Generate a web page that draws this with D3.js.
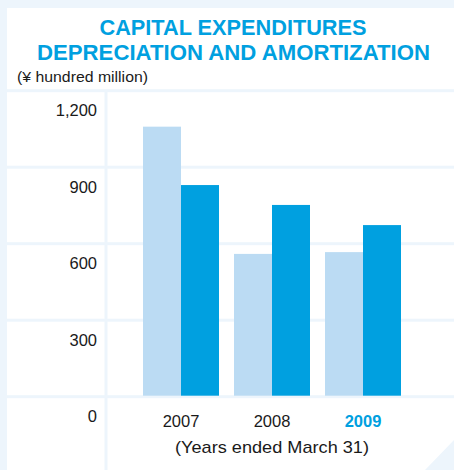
<!DOCTYPE html>
<html>
<head>
<meta charset="utf-8">
<script src="https://cdn.jsdelivr.net/npm/d3@7"></script>
<style>
  html, body { margin: 0; padding: 0; background: #edf5fc; }
  svg { display: block; }
</style>
</head>
<body>
<div id="chart"></div>
<script>
// Capex vs depreciation & amortization, grouped bars
const years = ['2007', '2008', '2009'];
const series = ['Capital expenditures', 'Depreciation and amortization'];
const capex = [1059, 560, 567];
const depreciation = [830, 752, 673];
const yTicks = [0, 300, 600, 900, 1200];

const BG = '#edf5fc', BLUE = '#00a0e0', LIGHT = '#bbdbf3', INK = '#1a1a1a';
const FONT = '"Liberation Sans", Arial, sans-serif';
const W = 454, H = 470;

const svg = d3.select('#chart').append('svg').attr('width', W).attr('height', H);

// panels
svg.append('rect').attr('width', W).attr('height', H).attr('fill', BG);
svg.append('rect').attr('x', 7).attr('y', 8).attr('width', W - 7).attr('height', H - 8).attr('fill', '#fff');
svg.append('path').attr('d', `M425,${H}L${W},440L${W},${H}Z`).attr('fill', BG);

// title
const title = svg.append('g').attr('font-family', '"Liberation Sans Narrow", "Liberation Sans", Arial, sans-serif')
  .attr('font-weight', 700).attr('font-size', 22).attr('fill', BLUE).attr('text-anchor', 'middle');
title.append('text').attr('x', 233).attr('y', 35).attr('textLength', 267).attr('lengthAdjust', 'spacingAndGlyphs')
  .text('CAPITAL EXPENDITURES');
title.append('text').attr('x', 233.5).attr('y', 60).attr('textLength', 393).attr('lengthAdjust', 'spacingAndGlyphs')
  .text('DEPRECIATION AND AMORTIZATION');

svg.append('text').attr('x', 17).attr('y', 82)
  .attr('font-family', FONT).attr('font-size', 15.5).attr('fill', INK)
  .attr('textLength', 131).attr('lengthAdjust', 'spacingAndGlyphs')
  .text('(¥ hundred million)');

const y = d3.scaleLinear().domain([0, 1200]).range([396.7, 90.7]);
const x0 = d3.scaleBand().domain(years).range([135.5, 408.5]).paddingInner(0.1648).paddingOuter(0.0824);
const x1 = d3.scaleBand().domain(series).range([0, x0.bandwidth()]);

// grid bands
svg.append('g').selectAll('rect').data(yTicks).join('rect')
  .attr('x', 7).attr('y', d => y(d) - 1.5).attr('width', W - 7).attr('height', 3).attr('fill', BG);
// vertical divider
svg.append('rect').attr('x', 104.5).attr('y', y(1200)).attr('width', 3).attr('height', H - y(1200)).attr('fill', BG);

// y labels sit below their grid line
svg.append('g').attr('transform', 'translate(97,25)')
  .call(d3.axisLeft(y).tickValues(yTicks).tickSize(0).tickPadding(0).tickFormat(d3.format(',')))
  .call(g => {
    g.select('.domain').remove();
    g.selectAll('text').attr('dy', 0).attr('font-family', FONT)
      .attr('font-size', 16.5).attr('fill', INK);
  });

// bars
const groups = svg.append('g').selectAll('g').data(years).join('g')
  .attr('transform', d => `translate(${x0(d)},0)`);
groups.selectAll('rect')
  .data((d, i) => [{ s: series[0], v: capex[i] }, { s: series[1], v: depreciation[i] }])
  .join('rect')
  .attr('x', d => x1(d.s)).attr('width', x1.bandwidth())
  .attr('y', d => y(d.v)).attr('height', d => y(0) - 1 - y(d.v))
  .attr('fill', d => d.s === series[0] ? LIGHT : BLUE);

// x labels
svg.append('g').attr('transform', `translate(0,${y(0)})`)
  .call(d3.axisBottom(x0).tickSize(0).tickPadding(0))
  .call(g => {
    g.select('.domain').remove();
    g.selectAll('text').attr('dy', 0).attr('y', 30)
      .attr('font-family', FONT).attr('font-size', 16.5)
      .attr('fill', d => d === '2009' ? BLUE : INK)
      .attr('font-weight', d => d === '2009' ? 700 : 400);
  });

svg.append('text').attr('x', 272).attr('y', 453).attr('text-anchor', 'middle')
  .attr('font-family', FONT).attr('font-size', 17).attr('fill', INK)
  .attr('textLength', 194).attr('lengthAdjust', 'spacingAndGlyphs')
  .text('(Years ended March 31)');
</script>
</body>
</html>
